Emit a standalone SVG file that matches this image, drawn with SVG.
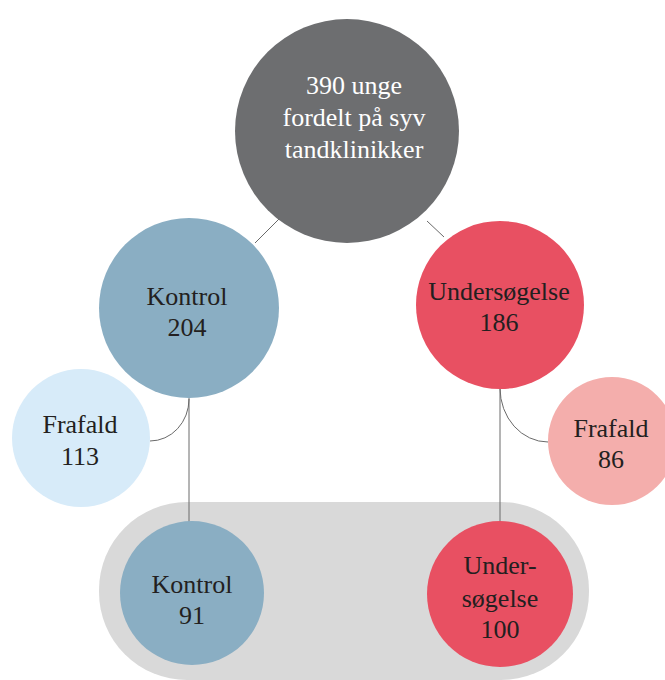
<svg xmlns="http://www.w3.org/2000/svg" width="665" height="680" viewBox="0 0 665 680">
<style>
text{font-family:"Liberation Serif","Times New Roman",serif;font-size:26px;fill:#231f20;text-anchor:middle}
.w{fill:#ffffff}
.ln{stroke:#6a6a6a;stroke-width:1;fill:none}
</style>
<rect width="665" height="680" fill="#ffffff"/>
<g id="group-bg"><rect x="99" y="502" width="490" height="178" rx="88" fill="#d9d9d9"/></g>
<g id="connectors">
<line class="ln" x1="280" y1="218" x2="255" y2="243"/>
<line class="ln" x1="427" y1="221" x2="444" y2="237"/>
<line class="ln" x1="189" y1="396" x2="189" y2="522"/>
<line class="ln" x1="500" y1="386" x2="500" y2="522"/>
<path class="ln" d="M189,399 A39,42 0 0 1 150,441"/>
<path class="ln" d="M500,388 A48,54 0 0 0 548,442"/>
</g>
<g id="n-total"><circle cx="347" cy="131" r="112" fill="#6d6e70"/>
<text class="w" x="354" y="94">390 unge</text><text class="w" x="354" y="126">fordelt på syv</text><text class="w" x="354" y="158">tandklinikker</text></g>
<g id="n-kontrol"><circle cx="189" cy="308" r="90" fill="#8aaec3"/>
<text x="187" y="305">Kontrol</text><text x="187" y="336">204</text></g>
<g id="n-under"><circle cx="500" cy="305" r="84" fill="#e85062"/>
<text x="499" y="300">Undersøgelse</text><text x="499" y="331">186</text></g>
<g id="n-frafald1"><circle cx="81" cy="438" r="69" fill="#d7ebf9"/>
<text x="80" y="433">Frafald</text><text x="80" y="465">113</text></g>
<g id="n-frafald2"><circle cx="612" cy="441" r="64" fill="#f4aeac"/>
<text x="611" y="437">Frafald</text><text x="611" y="468">86</text></g>
<g id="n-kontrol91"><circle cx="192" cy="593" r="72" fill="#8aaec3"/>
<text x="192" y="593">Kontrol</text><text x="192" y="624">91</text></g>
<g id="n-under100"><circle cx="500" cy="594" r="73" fill="#e85062"/>
<text x="500" y="574">Under-</text><text x="500" y="607">søgelse</text><text x="500" y="638">100</text></g>
</svg>
